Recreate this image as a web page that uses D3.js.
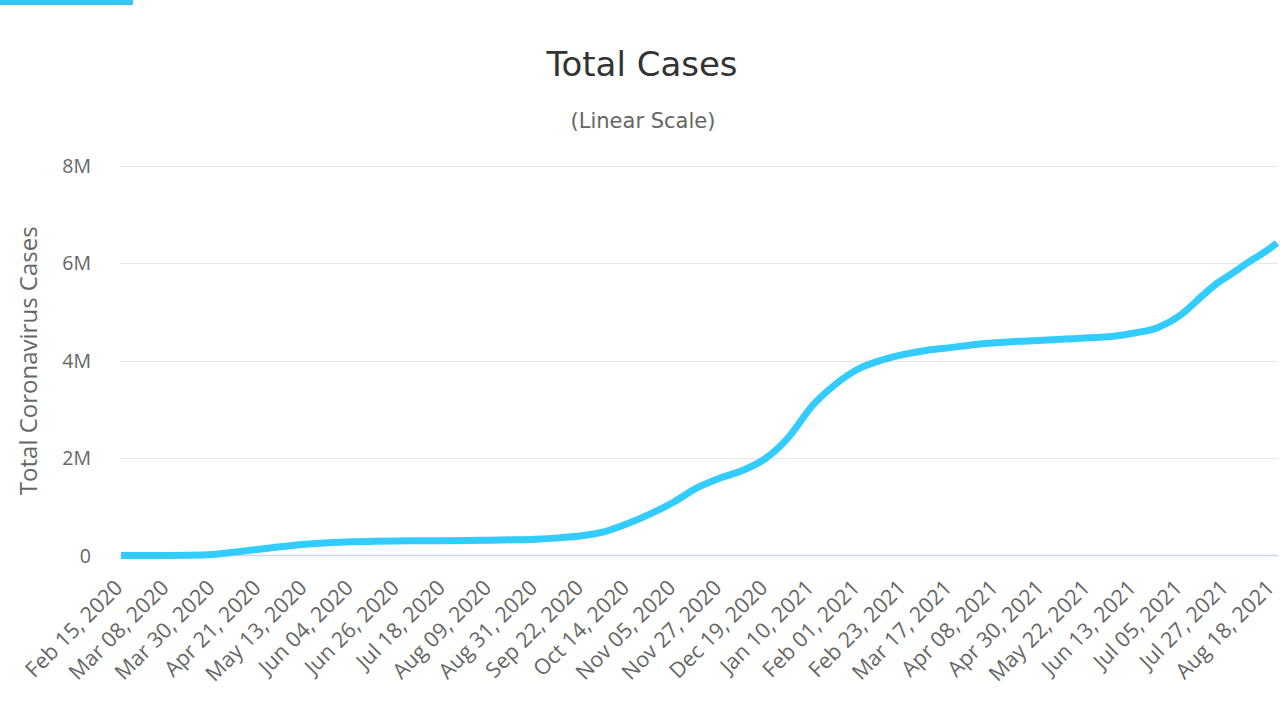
<!DOCTYPE html>
<html><head><meta charset="utf-8">
<script src="https://cdn.jsdelivr.net/npm/d3@7/dist/d3.min.js"></script>
<style>html,body{margin:0;padding:0;background:#fff;}svg{display:block;}</style>
</head><body>
<svg id="chart" width="1280" height="720"></svg>
<script>
// Data: day offset from Feb 15, 2020 and total cases
const startDate = "2020-02-15";
const categoryCount = 553; // Feb 15, 2020 .. Aug 20, 2021
const sampleDays = [0,11,22,33,44,55,66,77,88,99,110,121,132,143,154,165,176,187,198,209,220,231,242,253,264,275,286,297,308,319,330,341,352,363,374,385,396,407,418,429,440,451,462,473,484,495,506,517,524,528,539,550,552];
const totalCases = [0,15,300,3300,22000,74000,130000,183000,230000,260000,281000,293000,299000,302000,305000,309000,314000,322000,335000,362000,404000,490000,655000,860000,1100000,1390000,1590000,1750000,2000000,2440000,3070000,3510000,3830000,4010000,4130000,4215000,4270000,4330000,4370000,4400000,4420000,4445000,4470000,4500000,4570000,4680000,4940000,5360000,5610000,5720000,6040000,6350000,6420000];
const tickInterval = 22;
const yTicks = [0, 2000000, 4000000, 6000000, 8000000];
const yTickLabels = ["0", "2M", "4M", "6M", "8M"];
const titleText = "Total Cases";
const subtitleText = "(Linear Scale)";
const yAxisTitle = "Total Coronavirus Cases";

const svg = d3.select("#chart");
const plot = {left: 120, right: 1278, top: 166, bottom: 555.5};

// top-left accent bar
svg.append("rect").attr("x", 0).attr("y", 0).attr("width", 133).attr("height", 5).attr("fill", "#3ac6f2");

const x = d3.scaleLinear().domain([-0.5, categoryCount - 0.5]).range([plot.left, plot.right]);
const y = d3.scaleLinear().domain([0, 8000000]).range([plot.bottom, plot.top]);

// gridlines
svg.append("g").selectAll("line").data(yTicks.slice(1)).join("line")
  .attr("x1", plot.left).attr("x2", plot.right)
  .attr("y1", d => Math.round(y(d)) + 0.5).attr("y2", d => Math.round(y(d)) + 0.5)
  .attr("stroke", "#e6e6e6").attr("stroke-width", 1);

// x axis line
svg.append("line").attr("x1", plot.left).attr("x2", plot.right)
  .attr("y1", plot.bottom).attr("y2", plot.bottom)
  .attr("stroke", "#ccd6eb").attr("stroke-width", 1.5);

// y labels
svg.append("g").selectAll("text").data(yTicks).join("text")
  .attr("x", 91).attr("y", d => y(d) + 7)
  .attr("text-anchor", "end")
  .attr("font-family", "'Open Sans', sans-serif").attr("font-size", 19.5)
  .attr("fill", "#666").text((d, i) => yTickLabels[i]);

// y axis title
svg.append("text")
  .attr("transform", `translate(37, ${(plot.top + plot.bottom) / 2}) rotate(-90)`)
  .attr("text-anchor", "middle")
  .attr("font-family", "'Open Sans', sans-serif").attr("font-size", 24)
  .attr("fill", "#666").text(yAxisTitle);

// x labels
const parse = d3.timeParse("%Y-%m-%d");
const fmt = d3.timeFormat("%b %d, %Y");
const d0 = parse(startDate);
const tickIdx = d3.range(0, categoryCount, tickInterval);
svg.append("g").selectAll("text").data(tickIdx).join("text")
  .attr("transform", d => `translate(${x(d) + 3}, 589) rotate(-45)`)
  .attr("text-anchor", "end")
  .attr("font-family", "'Open Sans', sans-serif").attr("font-size", 21.5)
  .attr("fill", "#666")
  .text(d => fmt(d3.timeDay.offset(d0, d)));

// line
const pts = sampleDays.map((d, i) => [d, totalCases[i]]);
const line = d3.line().x(p => x(p[0])).y(p => y(p[1])).curve(d3.curveMonotoneX);
svg.append("path").datum(pts).attr("d", line)
  .attr("fill", "none").attr("stroke", "#33ccff").attr("stroke-width", 7)
  .attr("stroke-linejoin", "round").attr("stroke-linecap", "butt");

// titles
svg.append("text").attr("x", 642).attr("y", 76).attr("text-anchor", "middle")
  .attr("font-family", "'DejaVu Sans', sans-serif").attr("font-size", 34)
  .attr("fill", "#333").text(titleText);
svg.append("text").attr("x", 643).attr("y", 128).attr("text-anchor", "middle")
  .attr("font-family", "'DejaVu Sans', sans-serif").attr("font-size", 21)
  .attr("fill", "#666").text(subtitleText);
</script>
</body></html>
